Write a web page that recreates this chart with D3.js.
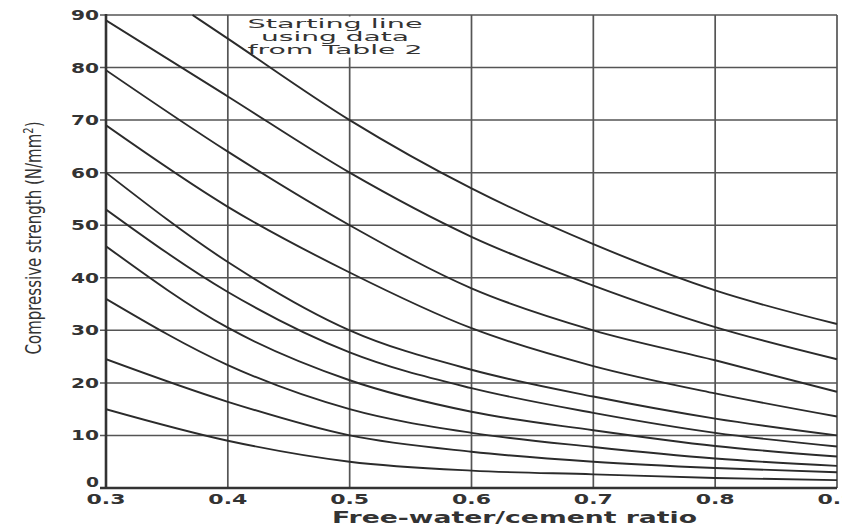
<!DOCTYPE html>
<html>
<head>
<meta charset="utf-8">
<script src="https://cdn.jsdelivr.net/npm/d3@7"></script>
<style>
  body { margin: 0; background: #fff; }
  svg { display: block; }
</style>
</head>
<body>
<svg id="chart" width="842" height="527"></svg>
<script>
// water/cement ratio grid
const ratios = [0.3, 0.4, 0.5, 0.6, 0.7, 0.8, 0.9];
const strengthTicks = [0, 10, 20, 30, 40, 50, 60, 70, 80, 90];

// starting line (from Table 2) enters the chart at the top edge
const startRatios = [0.371, 0.4, 0.5, 0.6, 0.7, 0.8, 0.9];
const startStrength = [90, 85.5, 70, 57, 46.4, 37.6, 31.2];

// the other curves, read at each ratio in `ratios`
const curveA = [89, 74.5, 60, 47.8, 38.5, 30.6, 24.5];
const curveB = [79.5, 64, 50, 38, 30, 24.3, 18.3];
const curveC = [69, 53.5, 41, 30.4, 23.2, 18, 13.6];
const curveD = [60, 43, 30, 22.5, 17.4, 13.2, 10];
const curveE = [53, 37.3, 25.8, 19, 14.3, 10.5, 7.9];
const curveF = [46, 30.5, 20.5, 14.5, 11, 8, 6];
const curveG = [36, 23.4, 15, 10.5, 7.8, 5.6, 4.2];
const curveH = [24.5, 16.4, 10, 6.9, 5, 3.8, 3];
const curveI = [15, 9, 5, 3.3, 2.6, 1.9, 1.5];

const noteLines = ['Starting line', 'using data', 'from Table 2'];

const svg = d3.select('#chart');
const plot = { left: 106, right: 837, top: 15, bottom: 488 };

const x = d3.scaleLinear().domain([0.3, 0.9]).range([plot.left, plot.right]);
const y = d3.scaleLinear().domain([0, 90]).range([plot.bottom, plot.top]);

const ink = '#333';

// grid
const grid = svg.append('g');
grid.selectAll('line.h')
    .data(strengthTicks.filter(d => d > 0))
    .join('line')
    .attr('class', 'h')
    .attr('x1', plot.left - 6).attr('x2', plot.right)
    .attr('y1', d => y(d)).attr('y2', d => y(d))
    .attr('stroke', '#555').attr('stroke-width', 1.5);

grid.selectAll('line.v')
    .data(ratios.slice(1))
    .join('line')
    .attr('class', 'v')
    .attr('x1', d => x(d)).attr('x2', d => x(d))
    .attr('y1', plot.top).attr('y2', plot.bottom)
    .attr('stroke', '#555').attr('stroke-width', 1.7);

// axis lines
svg.append('line')
    .attr('x1', x(0.3)).attr('x2', x(0.3))
    .attr('y1', y(90) - 1).attr('y2', y(0) + 1)
    .attr('stroke', ink).attr('stroke-width', 2.6);
svg.append('line')
    .attr('x1', x(0.3) - 6).attr('x2', x(0.9))
    .attr('y1', y(0)).attr('y2', y(0))
    .attr('stroke', ink).attr('stroke-width', 2.6);

// white patch under the note, it hides the 0.5 grid line
svg.append('rect')
    .attr('x', 245).attr('y', plot.top + 1.5)
    .attr('width', 180).attr('height', 41)
    .attr('fill', '#fff');

// curves
const line = d3.line()
    .x(d => x(d[0]))
    .y(d => y(d[1]))
    .curve(d3.curveMonotoneX);

const series = [
    d3.zip(startRatios, startStrength),
    ...[curveA, curveB, curveC, curveD, curveE, curveF, curveG, curveH, curveI]
        .map(vals => d3.zip(ratios, vals))
];

svg.append('defs').append('clipPath').attr('id', 'plotclip')
    .append('rect').attr('x', plot.left).attr('y', plot.top - 1)
    .attr('width', plot.right - plot.left + 2).attr('height', plot.bottom - plot.top + 1);

svg.append('g')
    .attr('clip-path', 'url(#plotclip)')
    .selectAll('path')
    .data(series)
    .join('path')
    .attr('d', line)
    .attr('fill', 'none')
    .attr('stroke', '#2b2b2b')
    .attr('stroke-width', 1.9);

// note text
const noteWidths = [175, 148, 175];
const noteBase = [28, 41, 54];
svg.append('g')
    .selectAll('text')
    .data(noteLines)
    .join('text')
    .attr('x', 335)
    .attr('y', (d, i) => noteBase[i])
    .attr('text-anchor', 'middle')
    .attr('textLength', (d, i) => noteWidths[i])
    .attr('lengthAdjust', 'spacingAndGlyphs')
    .attr('font-family', 'DejaVu Sans')
    .attr('font-size', 12)
    .attr('fill', ink)
    .text(d => d);

// y tick labels
svg.append('g')
    .selectAll('text')
    .data(strengthTicks)
    .join('text')
    .attr('x', 99)
    .attr('y', d => d === 0 ? y(d) - 1 : y(d) + 5)
    .attr('text-anchor', 'end')
    .attr('textLength', d => String(d).length * 15 - 2)
    .attr('lengthAdjust', 'spacingAndGlyphs')
    .attr('font-family', 'DejaVu Sans')
    .attr('font-weight', 'bold')
    .attr('font-size', 14)
    .attr('fill', ink)
    .text(d => d);

// x tick labels
svg.append('g')
    .selectAll('text')
    .data(ratios)
    .join('text')
    .attr('x', d => x(d))
    .attr('y', 504)
    .attr('text-anchor', 'middle')
    .attr('textLength', 39)
    .attr('lengthAdjust', 'spacingAndGlyphs')
    .attr('font-family', 'DejaVu Sans')
    .attr('font-weight', 'bold')
    .attr('font-size', 14)
    .attr('fill', ink)
    .text(d => d3.format('.1f')(d));

// axis titles
svg.append('text')
    .attr('x', 332)
    .attr('y', 523)
    .attr('textLength', 365)
    .attr('lengthAdjust', 'spacingAndGlyphs')
    .attr('font-family', 'DejaVu Sans')
    .attr('font-weight', 'bold')
    .attr('font-size', 15)
    .attr('fill', ink)
    .text('Free-water/cement ratio');

const yTitle = svg.append('text')
    .attr('transform', 'translate(41,238) rotate(-90)')
    .attr('text-anchor', 'middle')
    .attr('textLength', 233)
    .attr('lengthAdjust', 'spacingAndGlyphs')
    .attr('font-family', 'DejaVu Sans')
    .attr('font-size', 21)
    .attr('fill', ink);
yTitle.append('tspan').text('Compressive strength (N/mm');
yTitle.append('tspan').attr('dy', -8).attr('font-size', 14).text('2');
yTitle.append('tspan').attr('dy', 8).text(')');
</script>
</body>
</html>
